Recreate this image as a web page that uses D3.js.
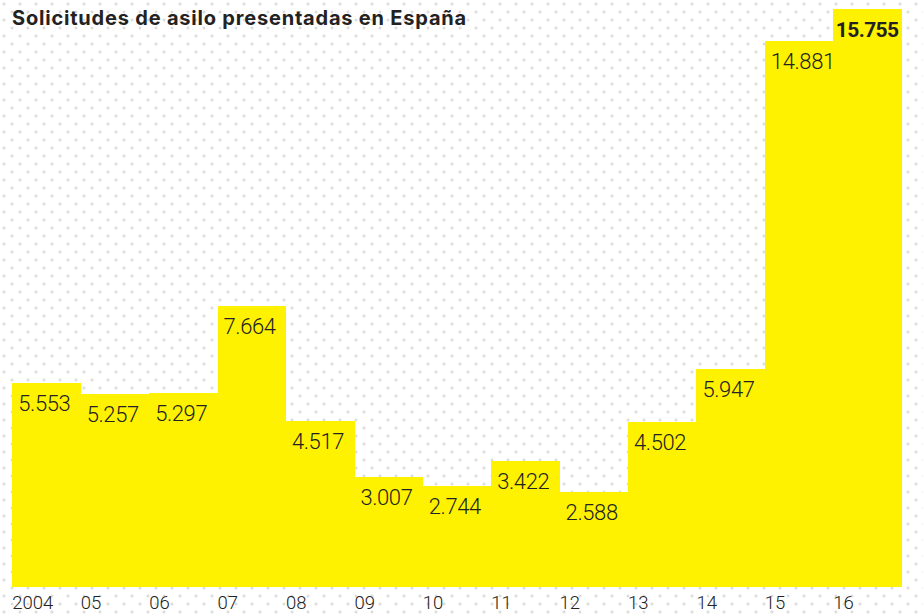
<!DOCTYPE html>
<html>
<head>
<meta charset="utf-8">
<script src="https://cdn.jsdelivr.net/npm/d3@7"></script>
<style>
  html, body { margin: 0; padding: 0; background: #fff; }
  svg { display: block; }
</style>
</head>
<body>
<script>
// datos
const years = ["2004", "05", "06", "07", "08", "09", "10", "11", "12", "13", "14", "15", "16"];
const values = [5553, 5257, 5297, 7664, 4517, 3007, 2744, 3422, 2588, 4502, 5947, 14881, 15755];
const valueLabels = ["5.553", "5.257", "5.297", "7.664", "4.517", "3.007", "2.744", "3.422", "2.588", "4.502", "5.947", "14.881", "15.755"];
const title = "Solicitudes de asilo presentadas en España";

const width = 923, height = 614;
const svg = d3.select("body").append("svg")
  .attr("width", width)
  .attr("height", height);

// fondo punteado
const defs = svg.append("defs");
const pat = defs.append("pattern")
  .attr("id", "dots")
  .attr("width", 16).attr("height", 16)
  .attr("patternUnits", "userSpaceOnUse");
[[4, 4], [12, 12]].forEach(([cx, cy]) => {
  pat.append("rect").attr("x", cx - 1.5).attr("y", cy - 0.5).attr("width", 3).attr("height", 1).attr("fill", "#cfcfcf");
  pat.append("rect").attr("x", cx - 0.5).attr("y", cy - 1.5).attr("width", 1).attr("height", 3).attr("fill", "#cfcfcf");
});
svg.append("rect").attr("width", width).attr("height", height).attr("fill", "#fff");
svg.append("rect").attr("width", width).attr("height", height).attr("fill", "url(#dots)");

const x = d3.scaleBand()
  .domain(years)
  .range([12.3, 901.7])
  .padding(0);

const y = d3.scaleLinear()
  .domain([0, 16000])
  .range([587, 0]);

// barras (sin separación, como escalones)
svg.append("g")
  .selectAll("rect")
  .data(values)
  .join("rect")
  .attr("x", (d, i) => x(years[i]))
  .attr("y", d => y(d))
  .attr("width", x.bandwidth() + 0.5)
  .attr("height", d => y(0) - y(d))
  .attr("fill", "#fff200")
  .attr("shape-rendering", "crispEdges");

// etiquetas de valor
const last = values.length - 1;
svg.append("g")
  .selectAll("text")
  .data(values)
  .join("text")
  .attr("x", (d, i) => x(years[i]) + (i === last ? 2.5 : 6))
  .attr("y", d => y(d) + 28)
  .attr("fill", "#222")
  .style("font-family", "Roboto, sans-serif")
  .style("font-size", (d, i) => i === last ? "21px" : "22px")
  .style("font-weight", (d, i) => i === last ? 700 : 300)
  .style("letter-spacing", (d, i) => i === last ? "-0.6px" : "-0.4px")
  .text((d, i) => valueLabels[i]);

// eje x
svg.append("g")
  .selectAll("text")
  .data(years)
  .join("text")
  .attr("x", d => x(d))
  .attr("y", 609)
  .attr("fill", "#222")
  .style("font-family", "Roboto, sans-serif")
  .style("font-size", "18.5px")
  .style("font-weight", 300)
  .text(d => d);

// título
svg.append("text")
  .attr("x", 12)
  .attr("y", 25)
  .attr("fill", "#222")
  .style("font-family", "Inter, sans-serif")
  .style("font-size", "20px")
  .style("font-weight", 700)
  .style("letter-spacing", "0.8px")
  .text(title);
</script>
</body>
</html>
